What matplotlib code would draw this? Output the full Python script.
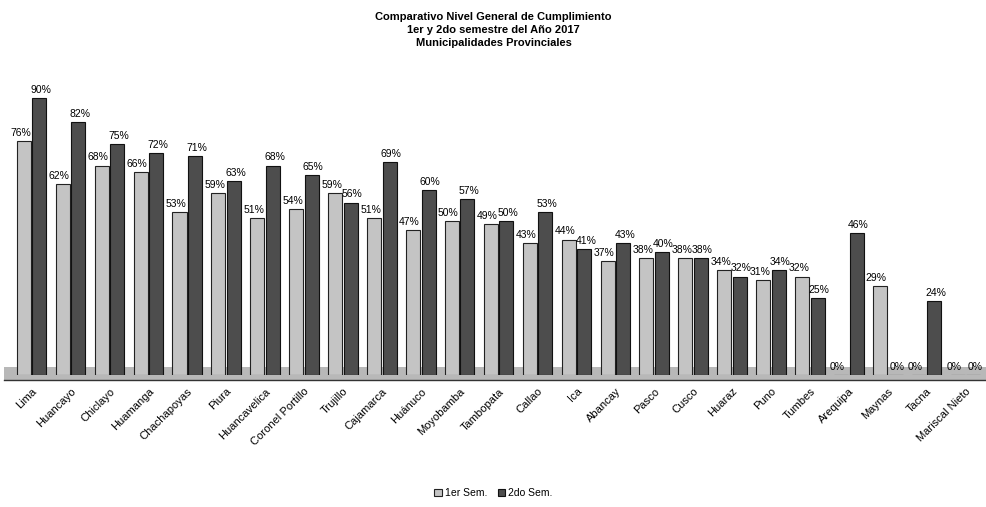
import matplotlib
matplotlib.use("Agg")
import matplotlib.pyplot as plt
import numpy as np
from matplotlib.patches import Rectangle

categories = ["Lima", "Huancayo", "Chiclayo", "Huamanga", "Chachapoyas", "Piura",
              "Huancavelica", "Coronel Portillo", "Trujillo", "Cajamarca", "Huánuco",
              "Moyobamba", "Tambopata", "Callao", "Ica", "Abancay", "Pasco", "Cusco",
              "Huaraz", "Puno", "Tumbes", "Arequipa", "Maynas", "Tacna", "Mariscal Nieto"]
sem1 = [76, 62, 68, 66, 53, 59, 51, 54, 59, 51, 47, 50, 49, 43, 44, 37, 38, 38, 34, 31, 32, 0, 29, 0, 0]
sem2 = [90, 82, 75, 72, 71, 63, 68, 65, 56, 69, 60, 57, 50, 53, 41, 43, 40, 38, 32, 34, 25, 46, 0, 24, 0]
series_names = ["1er Sem.", "2do Sem."]
title_lines = ["Comparativo Nivel General de Cumplimiento",
               "1er y 2do semestre del Año 2017",
               "Municipalidades Provinciales"]

plt.rcParams['font.family'] = ['Liberation Sans', 'DejaVu Sans']

fig = plt.figure(figsize=(9.87, 5.07), dpi=100)
ax = fig.add_axes([0.008, 0.26, 0.988, 0.608])

x = np.arange(len(categories))
w = 0.36
off = 0.2
c1 = "#c4c4c4"
c2 = "#4d4d4d"

# floor
ax.add_patch(Rectangle((-0.7, -1.6), 25.5, 4.4, facecolor="#b8b8b8", edgecolor="none", zorder=0, clip_on=False))
ax.plot([-0.7, 24.8], [-1.6, -1.6], color="#333333", lw=1.0, zorder=1, clip_on=False)

b1 = ax.bar(x - off, sem1, width=w, color=c1, edgecolor="#222222", linewidth=0.8, zorder=2, label=series_names[0])
b2 = ax.bar(x + off, sem2, width=w, color=c2, edgecolor="#111111", linewidth=0.8, zorder=2, label=series_names[1])

lab_font = ['Liberation Sans Narrow', 'Liberation Sans', 'DejaVu Sans']
for xi, v in zip(x, sem1):
    ax.text(xi - off - 0.09, v + 1.0, f"{v}%", ha="center", va="bottom", fontsize=7.5,
            family=lab_font, zorder=3)
for xi, v in zip(x, sem2):
    ax.text(xi + off + 0.04, v + 1.0, f"{v}%", ha="center", va="bottom", fontsize=7.5,
            family=lab_font, zorder=3)

ax.set_xlim(-0.61, 24.45)
ax.set_ylim(0, 100)
ax.set_xticks(x)
ax.set_xticklabels(categories, rotation=45, ha="right", rotation_mode="anchor", fontsize=8)
ax.tick_params(axis="x", length=0, pad=8)
ax.set_yticks([])
for s in ax.spines.values():
    s.set_visible(False)

for i, line in enumerate(title_lines):
    fig.text(0.5, 1 - (17 + 13 * i) / 507, line, ha="center", va="center", fontsize=8, fontweight="bold")

leg = fig.legend(handles=[b1, b2], labels=series_names, loc="center", bbox_to_anchor=(0.5, 1 - 493 / 507),
                 ncol=2, frameon=False, fontsize=7.5, handlelength=0.7, handleheight=0.7,
                 handletextpad=0.3, columnspacing=1.0)

fig.savefig("out.png", dpi=100)
